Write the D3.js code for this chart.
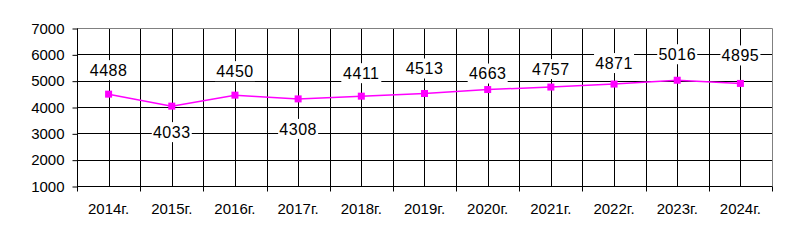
<!DOCTYPE html>
<html>
<head>
<meta charset="utf-8">
<script src="https://cdn.jsdelivr.net/npm/d3@7"></script>
<style>
  body { margin: 0; background: #fff; }
  text { font-family: "Liberation Sans", Arial, sans-serif; fill: #000; }
</style>
</head>
<body>
<div id="chart"></div>
<script>
// Data
var years = ["2014г.", "2015г.", "2016г.", "2017г.", "2018г.", "2019г.", "2020г.", "2021г.", "2022г.", "2023г.", "2024г."];
var values = [4488, 4033, 4450, 4308, 4411, 4513, 4663, 4757, 4871, 5016, 4895];
var yTicks = [1000, 2000, 3000, 4000, 5000, 6000, 7000];

// label offsets (px, from the point) as placed in the original
var labelDy = [-24, 26, -24, 30, -23, -25, -16, -18, -21, -26, -28];

var svgWidth = 812;
var svgHeight = 244;

var margin = { top: 28, right: 40, bottom: 58, left: 77 };
var width = svgWidth - margin.left - margin.right;
var height = svgHeight - margin.top - margin.bottom;

var svg = d3.select("#chart")
    .append("svg")
    .attr("width", svgWidth)
    .attr("height", svgHeight);

var chartGroup = svg.append("g")
    .attr("transform", `translate(${margin.left}, ${margin.top})`);

var xScale = d3.scaleBand()
    .domain(years)
    .range([0, width]);

var yScale = d3.scaleLinear()
    .domain([1000, 7000])
    .range([height, 0]);

// horizontal gridlines
chartGroup.append("g").selectAll("line")
    .data(yTicks.slice(1, -1))
    .enter()
    .append("line")
    .attr("x1", 0)
    .attr("x2", width)
    .attr("y1", d => Math.round(yScale(d)) + 0.5)
    .attr("y2", d => Math.round(yScale(d)) + 0.5)
    .attr("stroke", "#000")
    .attr("stroke-width", 1);

// vertical gridlines at category boundaries and centers
var vLines = [];
years.forEach(function(y, i) {
    if (i > 0) vLines.push(xScale(y));
    vLines.push(xScale(y) + xScale.bandwidth() / 2);
});
chartGroup.append("g").selectAll("line")
    .data(vLines)
    .enter()
    .append("line")
    .attr("x1", d => Math.round(d) + 0.5)
    .attr("x2", d => Math.round(d) + 0.5)
    .attr("y1", 0)
    .attr("y2", height)
    .attr("stroke", "#000")
    .attr("stroke-width", 1);

// top/right frame in gray
chartGroup.append("path")
    .attr("d", `M0,0.5H${width + 0.5}V${height}`)
    .attr("fill", "none")
    .attr("stroke", "#808080")
    .attr("stroke-width", 1);

// axes
var leftAxis = d3.axisLeft(yScale)
    .tickValues(yTicks)
    .tickSize(5)
    .tickPadding(8)
    .tickFormat(d3.format("d"));

var yAxisG = chartGroup.append("g")
    .attr("transform", "translate(0.5, 0.5)")
    .call(leftAxis);
yAxisG.select(".domain").remove();
yAxisG.append("line")
    .attr("x1", 0).attr("x2", 0)
    .attr("y1", 0).attr("y2", height)
    .attr("stroke", "#000");
yAxisG.selectAll(".tick line").attr("stroke", "#000");
yAxisG.selectAll("text")
    .attr("font-size", "15px")
    .attr("fill", "#000");

var xAxisG = chartGroup.append("g")
    .attr("transform", `translate(0, ${height + 0.5})`);
xAxisG.append("line")
    .attr("x1", 0).attr("x2", width + 0.5)
    .attr("stroke", "#000");
var boundaries = years.map(d => xScale(d)).concat([width]);
xAxisG.selectAll(".bt")
    .data(boundaries)
    .enter()
    .append("line")
    .attr("class", "bt")
    .attr("x1", d => Math.round(d) + 0.5)
    .attr("x2", d => Math.round(d) + 0.5)
    .attr("y1", 0)
    .attr("y2", 5)
    .attr("stroke", "#000");
xAxisG.selectAll("text")
    .data(years)
    .enter()
    .append("text")
    .attr("x", d => xScale(d) + xScale.bandwidth() / 2)
    .attr("y", 27)
    .attr("text-anchor", "middle")
    .attr("font-size", "15px")
    .text(d => d);

// line
var line = d3.line()
    .x((d, i) => xScale(years[i]) + xScale.bandwidth() / 2)
    .y(d => yScale(d));

chartGroup.append("path")
    .datum(values)
    .attr("d", line)
    .attr("fill", "none")
    .attr("stroke", "#ff00ff")
    .attr("stroke-width", 1.5);

// markers
chartGroup.append("g").selectAll("rect")
    .data(values)
    .enter()
    .append("rect")
    .attr("x", (d, i) => xScale(years[i]) + xScale.bandwidth() / 2 - 3.5)
    .attr("y", d => yScale(d) - 3.5)
    .attr("width", 7)
    .attr("height", 7)
    .attr("fill", "#ff00ff");

// data labels with white boxes
var labels = chartGroup.append("g").selectAll("g")
    .data(values)
    .enter()
    .append("g")
    .attr("transform", (d, i) => `translate(${xScale(years[i]) + xScale.bandwidth() / 2}, ${yScale(d) + labelDy[i]})`);

labels.append("rect")
    .attr("x", -20)
    .attr("y", -10)
    .attr("width", 40)
    .attr("height", 20)
    .attr("fill", "#fff");

labels.append("text")
    .attr("text-anchor", "middle")
    .attr("dy", "0.36em")
    .attr("font-size", "16px")
    .attr("letter-spacing", "0.5px")
    .text(d => d);
</script>
</body>
</html>
